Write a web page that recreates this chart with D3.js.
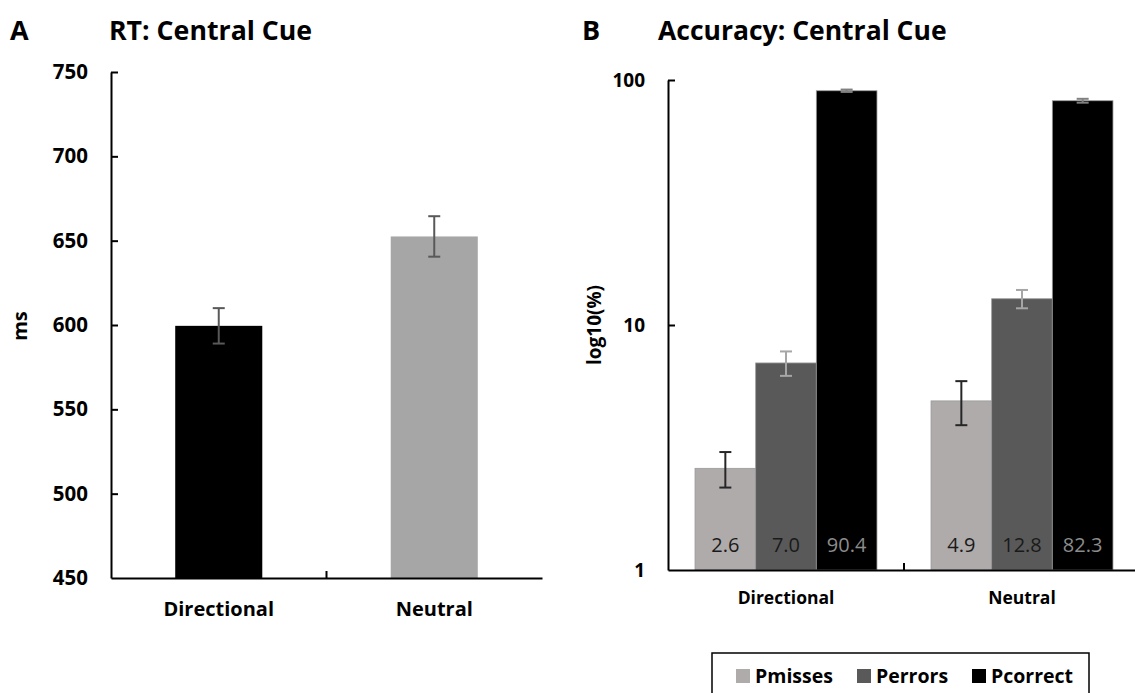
<!DOCTYPE html>
<html><head><meta charset="utf-8">
<script src="https://cdn.jsdelivr.net/npm/d3@7"></script>
<style>
body{margin:0;background:#fff;}
text{font-family:"Open Sans",sans-serif;}
</style></head>
<body><svg id="c" width="1135" height="693"></svg>
<script>
// ---- Panel A data ----
const categories = ["Directional", "Neutral"];
const rtMeans = [599.5, 652.5];
const rtErrors = [10.5, 12];
const rtColors = ["#000000", "#a6a6a6"];
const rtTicks = [450, 500, 550, 600, 650, 700, 750];

// ---- Panel B data ----
const series = ["Pmisses", "Perrors", "Pcorrect"];
const seriesColors = ["#afabab", "#595959", "#000000"];
const errColors = ["#262626", "#a6a6a6", "#808080"];
const labelColors = ["#1a1a1a", "#1a1a1a", "#8c8c8c"];
const pMisses = [2.6, 4.9];
const pErrors = [7.0, 12.8];
const pCorrect = [90.4, 82.3];
const pMissesErr = [0.43, 1.0];
const pErrorsErr = [0.8, 1.1];
const pCorrectErr = [1.0, 1.5];
const accTicks = [1, 10, 100];

const svg = d3.select("#c");
const bold = "700";
const FF = "Open Sans";

// ================= Panel A =================
const xA = d3.scaleBand().domain(categories).range([111, 542]).padding(0);
const yA = d3.scaleLinear().domain([450, 750]).range([578, 72]);
const gA = svg.append("g");

svg.append("text").attr("x", 10).attr("y", 40).attr("font-size", 27).attr("font-weight", bold).text("A");
svg.append("text").attr("x", 109).attr("y", 40).attr("font-size", 26.7).attr("font-weight", bold).text("RT: Central Cue");

const barWA = xA.bandwidth() * 0.404;
gA.selectAll("rect.bar").data(categories).join("rect")
  .attr("x", d => xA(d) + (xA.bandwidth() - barWA) / 2)
  .attr("width", barWA)
  .attr("y", (d, i) => yA(rtMeans[i]))
  .attr("height", (d, i) => yA(450) - yA(rtMeans[i]))
  .attr("fill", (d, i) => rtColors[i]);

const ebA = gA.selectAll("g.eb").data(categories).join("g")
  .attr("transform", d => `translate(${xA(d) + xA.bandwidth() / 2},0)`)
  .attr("stroke", "#595959").attr("stroke-width", 2);
ebA.append("line").attr("y1", (d, i) => yA(rtMeans[i] + rtErrors[i])).attr("y2", (d, i) => yA(rtMeans[i] - rtErrors[i]));
ebA.append("line").attr("x1", -6).attr("x2", 6).attr("y1", (d, i) => yA(rtMeans[i] + rtErrors[i])).attr("y2", (d, i) => yA(rtMeans[i] + rtErrors[i]));
ebA.append("line").attr("x1", -6).attr("x2", 6).attr("y1", (d, i) => yA(rtMeans[i] - rtErrors[i])).attr("y2", (d, i) => yA(rtMeans[i] - rtErrors[i]));

const axA = svg.append("g").attr("transform", "translate(111,0)")
  .call(d3.axisLeft(yA).tickValues(rtTicks).tickSizeInner(-7).tickSizeOuter(0).tickPadding(23));
axA.select(".domain").attr("stroke-width", 2);
axA.selectAll(".tick line").attr("stroke-width", 2);
axA.selectAll(".tick").filter(d => d === 450).select("line").remove();
axA.selectAll("text").attr("font-size", 20.5).attr("font-weight", bold).attr("font-family", FF).attr("fill", "#000");

const bxA = svg.append("g").attr("transform", "translate(0,578)")
  .call(d3.axisBottom(xA).tickSize(0).tickPadding(24));
bxA.select(".domain").attr("stroke-width", 2);
bxA.selectAll("text").attr("font-size", 20).attr("font-weight", bold).attr("font-family", FF).attr("fill", "#000");
svg.append("line").attr("x1", xA("Neutral")).attr("x2", xA("Neutral")).attr("y1", 578).attr("y2", 571).attr("stroke", "#000").attr("stroke-width", 2);

svg.append("text").attr("transform", "translate(27,326) rotate(-90)").attr("text-anchor", "middle")
  .attr("font-size", 20).attr("font-weight", bold).text("ms");

// ================= Panel B =================
const accData = [pMisses, pErrors, pCorrect];
const accErr = [pMissesErr, pErrorsErr, pCorrectErr];
const xB = d3.scaleBand().domain(categories).range([668, 1140]).padding(0);
const groupW = xB.bandwidth() * 0.771;
const xSub = d3.scaleBand().domain(series).range([0, groupW]).padding(0);
const yB = d3.scaleLog().domain([1, 100]).range([570, 80]);

svg.append("text").attr("x", 582).attr("y", 40).attr("font-size", 27).attr("font-weight", bold).text("B");
svg.append("text").attr("x", 658).attr("y", 40).attr("font-size", 26.5).attr("font-weight", bold).text("Accuracy: Central Cue");

const groups = svg.append("g").selectAll("g.grp").data(categories).join("g")
  .attr("transform", d => `translate(${xB(d) + (xB.bandwidth() - groupW) / 2},0)`);

series.forEach((s, si) => {
  groups.append("rect")
    .attr("x", xSub(s)).attr("width", xSub.bandwidth())
    .attr("y", (d, ci) => yB(accData[si][ci]))
    .attr("height", (d, ci) => yB(1) - yB(accData[si][ci]))
    .attr("fill", seriesColors[si])
    .attr("stroke", "#9a9a9a").attr("stroke-width", 0.8);
});
series.forEach((s, si) => {
  const cx = xSub(s) + xSub.bandwidth() / 2;
  const eg = groups.append("g").attr("stroke", errColors[si]).attr("stroke-width", 2);
  eg.append("line").attr("x1", cx).attr("x2", cx)
    .attr("y1", (d, ci) => yB(accData[si][ci] + accErr[si][ci]))
    .attr("y2", (d, ci) => yB(accData[si][ci] - accErr[si][ci]));
  [1, -1].forEach(sg => {
    eg.append("line").attr("x1", cx - 6).attr("x2", cx + 6)
      .attr("y1", (d, ci) => yB(accData[si][ci] + sg * accErr[si][ci]))
      .attr("y2", (d, ci) => yB(accData[si][ci] + sg * accErr[si][ci]));
  });
  groups.append("text").attr("x", cx).attr("y", 552).attr("text-anchor", "middle")
    .attr("font-size", 20).attr("fill", labelColors[si])
    .text((d, ci) => accData[si][ci].toFixed(1));
});

const axB = svg.append("g").attr("transform", "translate(668,0)")
  .call(d3.axisLeft(yB).tickValues(accTicks).tickFormat(d3.format("d")).tickSizeInner(-7).tickSizeOuter(0).tickPadding(23));
axB.select(".domain").attr("stroke-width", 2);
axB.selectAll(".tick line").attr("stroke-width", 2);
axB.selectAll(".tick").filter(d => d === 1).select("line").remove();
axB.selectAll("text").attr("font-size", 19).attr("font-weight", bold).attr("font-family", FF).attr("fill", "#000");

const bxB = svg.append("g").attr("transform", "translate(0,570)")
  .call(d3.axisBottom(xB).tickSize(0).tickPadding(22));
bxB.select(".domain").attr("stroke-width", 2);
bxB.selectAll("text").attr("font-size", 17.5).attr("font-weight", bold).attr("font-family", FF).attr("fill", "#000");
svg.append("line").attr("x1", xB("Neutral")).attr("x2", xB("Neutral")).attr("y1", 570).attr("y2", 563).attr("stroke", "#000").attr("stroke-width", 2);

svg.append("text").attr("transform", "translate(601,325) rotate(-90)").attr("text-anchor", "middle")
  .attr("font-size", 19).attr("font-weight", bold).text("log10(%)");

// legend
svg.append("rect").attr("x", 712).attr("y", 653).attr("width", 377).attr("height", 60)
  .attr("fill", "none").attr("stroke", "#000").attr("stroke-width", 1.5);
const legX = [736, 857, 972];
const leg = svg.append("g").selectAll("g").data(series).join("g")
  .attr("transform", (d, i) => `translate(${legX[i]},669)`);
leg.append("rect").attr("width", 14).attr("height", 14).attr("fill", (d, i) => seriesColors[i]);
leg.append("text").attr("x", 19).attr("y", 14).attr("font-size", 19.5).attr("font-weight", bold).text(d => d);
</script></body></html>
